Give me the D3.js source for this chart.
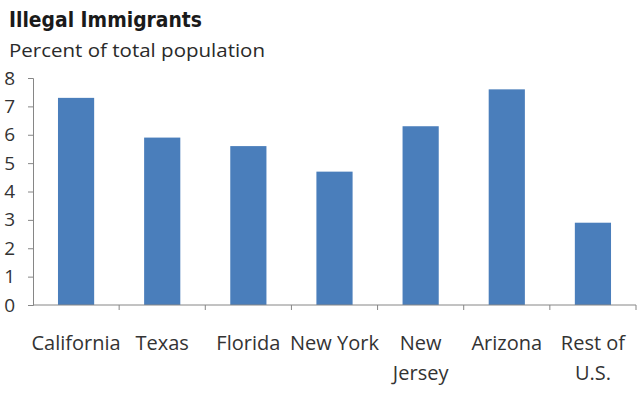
<!DOCTYPE html>
<html>
<head>
<meta charset="utf-8">
<script src="https://cdn.jsdelivr.net/npm/d3@7"></script>
<style>
  body { margin: 0; background: #fff; }
  text { font-family: "Open Sans", sans-serif; fill: #404040; }
</style>
</head>
<body>
<svg id="chart" width="640" height="397"></svg>
<script>
const states = ['California', 'Texas', 'Florida', 'New York', 'New Jersey', 'Arizona', 'Rest of U.S.'];
const labelLines = [['California'], ['Texas'], ['Florida'], ['New York'], ['New', 'Jersey'], ['Arizona'], ['Rest of', 'U.S.']];
const percents = [7.3, 5.9, 5.6, 4.7, 6.3, 7.6, 2.9];
const yTicks = [0, 1, 2, 3, 4, 5, 6, 7, 8];

const svg = d3.select('#chart');
const margin = {top: 78, right: 4, bottom: 92, left: 33};
const width = 640 - margin.left - margin.right;
const height = 397 - margin.top - margin.bottom;

svg.append('text')
    .attr('x', 9).attr('y', 27)
    .style('font-family', '"DejaVu Sans Condensed", "DejaVu Sans", sans-serif')
    .style('font-weight', 'bold')
    .style('font-size', '21px')
    .attr('textLength', 193)
    .attr('lengthAdjust', 'spacingAndGlyphs')
    .style('fill', '#1a1a1a')
    .text('Illegal Immigrants');

svg.append('text')
    .attr('x', 9).attr('y', 57)
    .style('font-size', '18px')
    .attr('textLength', 256)
    .attr('lengthAdjust', 'spacingAndGlyphs')
    .style('fill', '#2a2a2a')
    .text('Percent of total population');

const g = svg.append('g')
    .attr('transform', 'translate(' + margin.left + ',' + margin.top + ')');

const x = d3.scaleBand()
    .domain(states)
    .range([0, width])
    .paddingInner(0.58)
    .paddingOuter(0.29);

const y = d3.scaleLinear()
    .domain([0, 8])
    .range([height, 0]);

// bars
g.selectAll('.bar')
    .data(percents)
  .enter().append('rect')
    .attr('class', 'bar')
    .attr('x', (d, i) => x(states[i]))
    .attr('y', d => y(d))
    .attr('width', x.bandwidth())
    .attr('height', d => height - y(d))
    .attr('fill', '#4a7ebb');

// y axis
const yAxis = g.append('g')
    .call(d3.axisLeft(y).tickValues(yTicks).tickSize(5).tickPadding(13));
yAxis.select('.domain').attr('stroke', '#868686');
yAxis.selectAll('.tick line').attr('stroke', '#868686');
yAxis.selectAll('.tick text').style('font-size', '19px').style('fill', '#333');

// x axis: ticks on category boundaries
const bounds = d3.range(states.length + 1).map(i => i * width / states.length);
const xAxis = g.append('g').attr('transform', 'translate(0,' + height + ')');
xAxis.append('line')
    .attr('x1', 0).attr('x2', width)
    .attr('stroke', '#868686');
xAxis.selectAll('.xtick')
    .data(bounds.slice(1))
  .enter().append('line')
    .attr('x1', d => d).attr('x2', d => d)
    .attr('y1', 0).attr('y2', 5)
    .attr('stroke', '#868686');

const lbl = xAxis.selectAll('.xlabel')
    .data(labelLines)
  .enter().append('text')
    .attr('text-anchor', 'middle')
    .attr('x', (d, i) => x(states[i]) + x.bandwidth() / 2)
    .attr('y', 45)
    .style('font-size', '20px')
    .style('fill', '#333');
lbl.selectAll('tspan')
    .data(d => d)
  .enter().append('tspan')
    .attr('x', function() { return d3.select(this.parentNode).attr('x'); })
    .attr('dy', (d, i) => i === 0 ? 0 : 30)
    .text(d => d);
</script>
</body>
</html>
